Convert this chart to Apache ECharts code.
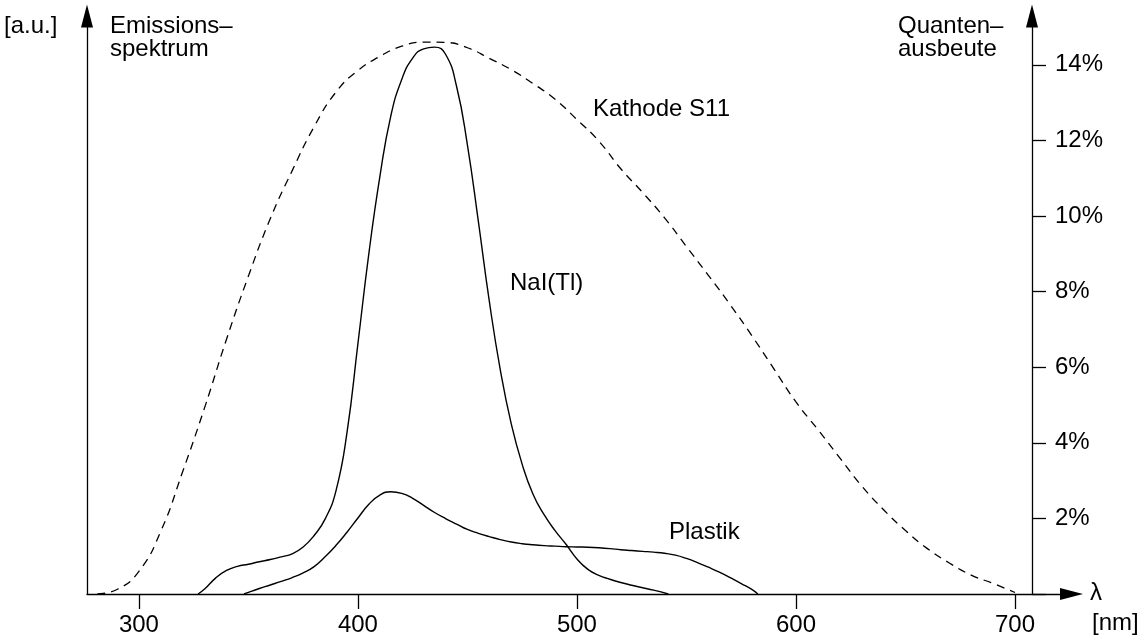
<!DOCTYPE html>
<html>
<head>
<meta charset="utf-8">
<script src="https://cdn.jsdelivr.net/npm/echarts@6/dist/echarts.min.js"></script>
<style>html,body{margin:0;padding:0;background:#fff}#chart{width:1144px;height:641px}</style>
</head>
<body>
<div id="chart"></div>
<script>
// ---- data ----
const wavelengthTicks = [300, 400, 500, 600, 700];
const yieldTicks = [0, 2, 4, 6, 8, 10, 12, 14];
const yieldLabels = [2, 4, 6, 8, 10, 12, 14];

// NaI(Tl) emission spectrum, arbitrary units (peak = 100)
const naiNm  = [327, 330, 335, 340, 345, 350, 355, 360, 365, 370, 375, 380, 385, 390, 395, 400, 405, 410, 415, 420, 425, 430, 435, 440, 445, 450, 455, 460, 465, 470, 475, 480, 485, 490, 495, 500, 505, 510, 515, 520, 525, 530, 535, 541.7];
const naiVal = [0, 0.9, 2.9, 4.3, 5.05, 5.45, 5.9, 6.3, 6.8, 7.35, 8.6, 10.7, 13.7, 18.9, 29.5, 45.8, 62.3, 76.3, 87.4, 94.1, 98.0, 99.7, 100, 98.7, 92.9, 82.1, 68.1, 53.5, 41.0, 31.1, 23.7, 18.2, 14.5, 11.6, 9.1, 6.4, 4.5, 3.4, 2.7, 2.1, 1.6, 1.15, 0.7, 0];

// Plastic scintillator emission spectrum, arbitrary units
const plasticNm  = [348, 350, 355, 360, 365, 370, 375, 380, 385, 390, 395, 400, 405, 410, 415, 420, 425, 430, 435, 440, 445, 450, 455, 460, 465, 470, 475, 480, 485, 490, 495, 500, 505, 510, 515, 520, 525, 530, 535, 540, 545, 550, 555, 560, 565, 570, 575, 580, 582.6];
const plasticVal = [0, 0.3, 1.0, 1.65, 2.3, 3.0, 3.85, 5.0, 6.8, 8.9, 11.3, 13.9, 16.4, 18.1, 18.7, 18.4, 17.5, 16.2, 14.9, 13.8, 12.8, 11.8, 11.1, 10.5, 9.95, 9.5, 9.2, 9.0, 8.85, 8.75, 8.65, 8.6, 8.55, 8.45, 8.3, 8.1, 7.95, 7.8, 7.65, 7.45, 7.1, 6.5, 5.75, 4.9, 4.0, 3.0, 1.9, 0.8, 0];

// Photocathode S11 quantum efficiency, percent
const cathodeNm  = [281, 290, 300, 310, 320, 330, 340, 350, 360, 370, 380, 390, 400, 410, 420, 430, 440, 450, 460, 470, 480, 490, 500, 510, 520, 530, 540, 550, 560, 570, 580, 590, 600, 610, 620, 630, 640, 650, 660, 670, 680, 690, 700];
const cathodeVal = [0, 0.12, 0.6, 1.66, 3.24, 4.93, 6.74, 8.41, 9.93, 11.2, 12.36, 13.28, 13.85, 14.22, 14.49, 14.6, 14.59, 14.45, 14.17, 13.87, 13.5, 13.09, 12.55, 11.98, 11.25, 10.62, 9.95, 9.19, 8.43, 7.65, 6.82, 5.95, 5.08, 4.35, 3.6, 2.86, 2.23, 1.68, 1.2, 0.82, 0.5, 0.28, 0.04];

const pairs = (xs, ys) => xs.map((x, i) => [x, ys[i]]);

const FONT = '"Liberation Sans", Arial, Helvetica, sans-serif';
const FS = 24;

const chart = echarts.init(document.getElementById('chart'), null, {renderer: 'canvas'});
const axisLineStyle = {color: '#000', width: 1.3};

chart.setOption({
  animation: false,
  backgroundColor: '#fff',
  grid: {left: 87, right: 72.5, top: 16, bottom: 47, containLabel: false},
  xAxis: {
    type: 'value', min: 276.3, max: 725.8,
    splitLine: {show: false},
    axisLine: {show: true, onZero: false, lineStyle: axisLineStyle, symbol: ['none', 'triangle'], symbolSize: [12, 23]},
    axisTick: {show: true, inside: false, length: 15, lineStyle: axisLineStyle, customValues: wavelengthTicks},
    axisLabel: {show: true, margin: 19, color: '#000', fontFamily: FONT, fontSize: FS, customValues: wavelengthTicks}
  },
  yAxis: [
    {
      type: 'value', position: 'left', min: 0, max: 105.7,
      splitLine: {show: false},
      axisLine: {show: true, onZero: false, lineStyle: axisLineStyle, symbol: ['none', 'triangle'], symbolSize: [12, 23]},
      axisTick: {show: false}, axisLabel: {show: false}
    },
    {
      type: 'value', position: 'right', offset: -39.5, min: 0, max: 15.29,
      splitLine: {show: false},
      axisLine: {show: true, onZero: false, lineStyle: axisLineStyle, symbol: ['none', 'triangle'], symbolSize: [12, 23]},
      axisTick: {show: true, inside: false, length: 14, lineStyle: axisLineStyle, customValues: yieldTicks},
      axisLabel: {show: true, margin: 23, color: '#000', fontFamily: FONT, fontSize: FS, formatter: '{value}%', customValues: yieldLabels}
    }
  ],
  series: [
    {
      name: 'NaI(Tl)', type: 'line', yAxisIndex: 0, data: pairs(naiNm, naiVal),
      smooth: 0.5, showSymbol: false, symbol: 'none',
      lineStyle: {color: '#000', width: 1.4}
    },
    {
      name: 'Plastik', type: 'line', yAxisIndex: 0, data: pairs(plasticNm, plasticVal),
      smooth: 0.5, showSymbol: false, symbol: 'none',
      lineStyle: {color: '#000', width: 1.4}
    },
    {
      name: 'Kathode S11', type: 'line', yAxisIndex: 1, data: pairs(cathodeNm, cathodeVal),
      smooth: 0.5, showSymbol: false, symbol: 'none',
      lineStyle: {color: '#000', width: 1.3, type: [8, 6]}
    }
  ],
  graphic: [
    {type: 'text', left: 4, top: 14, style: {text: '[a.u.]', font: FS + 'px ' + FONT, fill: '#000'}},
    {type: 'text', left: 110, top: 14, style: {text: 'Emissions–\nspektrum', font: FS + 'px ' + FONT, fill: '#000', lineHeight: 23}},
    {type: 'text', left: 898, top: 14, style: {text: 'Quanten–\nausbeute', font: FS + 'px ' + FONT, fill: '#000', lineHeight: 23}},
    {type: 'text', left: 593, top: 97, style: {text: 'Kathode S11', font: FS + 'px ' + FONT, fill: '#000'}},
    {type: 'text', left: 510, top: 271, style: {text: 'NaI(Tl)', font: FS + 'px ' + FONT, fill: '#000'}},
    {type: 'text', left: 669, top: 520, style: {text: 'Plastik', font: FS + 'px ' + FONT, fill: '#000'}},
    {type: 'text', left: 1090, top: 581, style: {text: 'λ', font: FS + 'px ' + FONT, fill: '#000'}},
    {type: 'text', left: 1092, top: 611, style: {text: '[nm]', font: FS + 'px ' + FONT, fill: '#000'}}
  ]
});
</script>
</body>
</html>
